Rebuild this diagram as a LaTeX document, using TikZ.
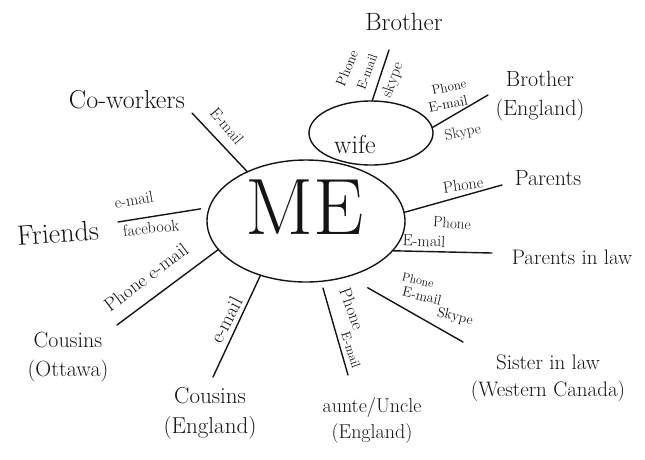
\documentclass[tikz,border=0pt]{standalone}
\usepackage{fontspec}
\usetikzlibrary{shapes.geometric}
\definecolor{penink}{HTML}{141414}

\begin{document}
\begin{tikzpicture}[x=1pt,y=-1pt,line join=round,line cap=round,
    pen/.style={draw=penink,line width=1.4pt},
    blob/.style={pen,ellipse,inner sep=0pt,outer sep=0pt},
    who/.style={text=penink,align=center,inner sep=0pt,
      font=\fontsize{#1}{#1}\linespread{1.3}\selectfont},
    via/.style={text=penink,inner sep=0pt,font=\fontsize{#1}{#1}\selectfont},
    via/.default=13]
  % Keep the frame of the scanned sketch.
  \useasboundingbox (0,0) rectangle (645,459);

  % The two bubbles in the middle.
  \node[blob,minimum width=198,minimum height=122] (me) at (306,221) {};
  \node[blob,minimum width=124,minimum height=64] (wife) at (371,133) {};
  \node[who=80] (metext) at (305,207) {ME};
  \node[who=26] (wifetext) at (355,144) {wife};

  % People round the outside.
  \node[who=25] (brother) at (404,22) {Brother};
  \node[who=22] (brotherEng) at (540,96) {Brother\\(England)};
  \node[who=22] (parents) at (548,178) {Parents};
  \node[who=21] (inlaws) at (572,257) {Parents in law};
  \node[who=21] (sister) at (548,378) {Sister in law\\(Western Canada)};
  \node[who=20] (aunt) at (372,420) {aunte/Uncle\\(England)};
  \node[who=23] (cousinsEng) at (210,413) {Cousins\\(England)};
  \node[who=22] (cousinsOtt) at (68,357) {Cousins\\(Ottawa)};
  \node[who=28,rotate=4] (friends) at (58,233) {Friends};
  \node[who=26] (coworkers) at (127,100) {Co-workers};

  % Free ends of the spokes.
  \coordinate (brotherEnd) at (389,50);
  \coordinate (brotherEngEnd) at (488,95);
  \coordinate (parentsEnd) at (502,185);
  \coordinate (inlawsEnd) at (492,253);
  \coordinate (sisterEnd) at (463,342);
  \coordinate (auntEnd) at (348,375);
  \coordinate (cousinsEngEnd) at (213,377);
  \coordinate (cousinsOttEnd) at (117,325);
  \coordinate (friendsEnd) at (118,222);
  \coordinate (coworkersEnd) at (192,113);

  % Spokes.
  \draw[pen] (wife.88) -- (brotherEnd);
  \draw[pen] (wife.5) -- (brotherEngEnd);
  \draw[pen] (me.5) -- (parentsEnd);
  \draw[pen] (me.341) -- (inlawsEnd);
  \draw[pen,shorten <=23pt] (me.307) -- (sisterEnd);
  \draw[pen,shorten <=7pt] (me.284) -- (auntEnd);
  \draw[pen] (me.230) -- (cousinsEngEnd);
  \draw[pen] (me.198) -- (cousinsOttEnd);
  \draw[pen,shorten <=9pt] (me.172) -- (friendsEnd);
  \draw[pen] (me.140) -- (coworkersEnd);

  % How each one is reached.
  \node[via=14,rotate=68] (brotherPhone) at (347,68) {Phone};
  \node[via,rotate=70] (brotherMail) at (367,72) {E-mail};
  \node[via=16,rotate=70] (brotherSkype) at (393,80) {skype};
  \node[via,rotate=12] (brotherEngPhone) at (449,87) {Phone};
  \node[via=14,rotate=12] (brotherEngMail) at (448,104) {E-mail};
  \node[via=15,rotate=12] (brotherEngSkype) at (463,133) {Skype};
  \node[via=16,rotate=8] (parentsPhone) at (463,185) {Phone};
  \node[via=15,rotate=-4] (inlawsPhone) at (452,223) {Phone};
  \node[via=16,rotate=-2] (inlawsMail) at (424,241) {E-mail};
  \node[via=12,rotate=-14] (sisterPhone) at (418,280) {Phone};
  \node[via=14,rotate=-14] (sisterMail) at (422,296) {E-mail};
  \node[via=14,rotate=-14] (sisterSkype) at (455,317) {Skype};
  \node[via=17,rotate=-70] (auntPhone) at (352,309) {Phone};
  \node[via,rotate=-72] (auntMail) at (351,350) {E-mail};
  \node[via=20,rotate=63] (cousinsEngMail) at (226,320) {e-mail};
  \node[via=19,rotate=37] (cousinsOttVia) at (146,277) {Phone e-mail};
  \node[via=16,rotate=10] (friendsMail) at (134,200) {e-mail};
  \node[via=16,rotate=6] (friendsBook) at (151,228) {facebook};
  \node[via=16,rotate=-50] (coworkersMail) at (227,126) {E-mail};
\end{tikzpicture}
\end{document}
